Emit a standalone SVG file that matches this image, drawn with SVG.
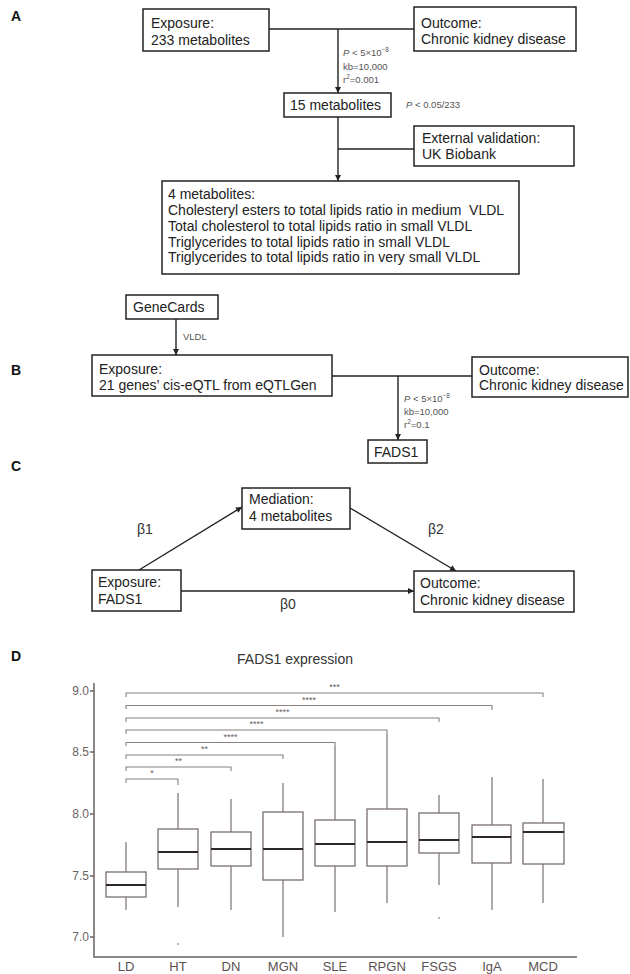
<svg xmlns="http://www.w3.org/2000/svg" width="630" height="974" viewBox="0 0 630 974">
<style>
text{font-family:"Liberation Sans",Arial,sans-serif;}
.panel{font-size:14px;font-weight:bold;fill:#111;}
.nb{fill:#fff;stroke:#222;stroke-width:1.5;}
.nt{font-size:14px;fill:#222;}
.sm{font-size:9.5px;fill:#555;}
.beta{font-size:14px;fill:#333;}
.cn{stroke:#222;stroke-width:1.4;fill:none;}
.bx{fill:#fff;stroke:#7a6f6f;stroke-width:1.3;}
.wh{stroke:#7a6f6f;stroke-width:1.2;}
.md{stroke:#2e2929;stroke-width:2.2;}
.br{stroke:#8a8080;stroke-width:1.1;fill:none;}
.st{font-size:9px;fill:#6a6060;text-anchor:middle;}
.ax{stroke:#6b6262;stroke-width:1.5;fill:none;}
.yt{font-size:12px;fill:#6b6262;text-anchor:end;}
.xt{font-size:13px;fill:#5a5252;text-anchor:middle;}
</style>
<defs>
<marker id="ah" viewBox="0 0 10 10" refX="10" refY="5" markerWidth="7" markerHeight="6" markerUnits="userSpaceOnUse" orient="auto">
<path d="M0,0 L10,5 L0,10 z" fill="#222"/>
</marker>
</defs>
<rect width="630" height="974" fill="#fff"/>

<text class="panel" x="11" y="21">A</text>
<text class="panel" x="11" y="375">B</text>
<text class="panel" x="11" y="471">C</text>
<text class="panel" x="11" y="661">D</text>

<g id="connectors">
<line class="cn" x1="269" y1="29" x2="414" y2="29"/>
<line class="cn" x1="338" y1="29" x2="338" y2="93" marker-end="url(#ah)"/>
<line class="cn" x1="338" y1="117" x2="338" y2="181" marker-end="url(#ah)"/>
<line class="cn" x1="414" y1="149" x2="338" y2="149"/>
<line class="cn" x1="176" y1="319" x2="176" y2="355" marker-end="url(#ah)"/>
<line class="cn" x1="332" y1="376" x2="472" y2="376"/>
<line class="cn" x1="398" y1="376" x2="398" y2="440" marker-end="url(#ah)"/>
<line class="cn" x1="139" y1="570" x2="242" y2="507" marker-end="url(#ah)"/>
<line class="cn" x1="350" y1="508" x2="456" y2="571" marker-end="url(#ah)"/>
<line class="cn" x1="181" y1="591" x2="414" y2="591" marker-end="url(#ah)"/>
<text class="sm" x="343" y="56"><tspan font-style="italic">P</tspan> &lt; 5×10<tspan font-size="6.5px" dy="-4">−8</tspan></text>
<text class="sm" x="343" y="70">kb=10,000</text>
<text class="sm" x="343" y="83">r<tspan font-size="6.5px" dy="-4">2</tspan><tspan dy="4">=0.001</tspan></text>
<text class="sm" x="406" y="108"><tspan font-style="italic">P</tspan> &lt; 0.05/233</text>
<text class="sm" x="183" y="340">VLDL</text>
<text class="sm" x="404" y="402"><tspan font-style="italic">P</tspan> &lt; 5×10<tspan font-size="6.5px" dy="-4">−8</tspan></text>
<text class="sm" x="404" y="415">kb=10,000</text>
<text class="sm" x="404" y="428">r<tspan font-size="6.5px" dy="-4">2</tspan><tspan dy="4">=0.1</tspan></text>
<text class="beta" x="137" y="534">β1</text>
<text class="beta" x="428" y="534">β2</text>
<text class="beta" x="280" y="609">β0</text>
</g>

<g id="a-exposure">
<rect class="nb" x="143" y="9" width="126" height="42"/>
<text class="nt" x="151" y="28">Exposure:</text>
<text class="nt" x="151" y="45">233 metabolites</text>
</g>
<g id="a-outcome">
<rect class="nb" x="414" y="7" width="162" height="44"/>
<text class="nt" x="421" y="28">Outcome:</text>
<text class="nt" x="421" y="44">Chronic kidney disease</text>
</g>
<g id="a-15">
<rect class="nb" x="284" y="93" width="107" height="24"/>
<text class="nt" x="290" y="110">15 metabolites</text>
</g>
<g id="a-external">
<rect class="nb" x="414" y="126" width="160" height="40"/>
<text class="nt" x="422" y="143">External validation:</text>
<text class="nt" x="422" y="159">UK Biobank</text>
</g>
<g id="a-4met">
<rect class="nb" x="162" y="181" width="357" height="93"/>
<text class="nt" x="168" y="199">4 metabolites:</text>
<text class="nt" x="168" y="215" xml:space="preserve">Cholesteryl esters to total lipids ratio in medium  VLDL</text>
<text class="nt" x="168" y="231">Total cholesterol to total lipids ratio in small VLDL</text>
<text class="nt" x="168" y="246.5">Triglycerides to total lipids ratio in small VLDL</text>
<text class="nt" x="168" y="262">Triglycerides to total lipids ratio in very small VLDL</text>
</g>

<g id="b-genecards">
<rect class="nb" x="126" y="295" width="92" height="24"/>
<text class="nt" x="133" y="312">GeneCards</text>
</g>
<g id="b-exposure">
<rect class="nb" x="92" y="355" width="240" height="41"/>
<text class="nt" x="99" y="374">Exposure:</text>
<text class="nt" x="99" y="390">21 genes’ cis-eQTL from eQTLGen</text>
</g>
<g id="b-outcome">
<rect class="nb" x="472" y="357" width="156" height="40"/>
<text class="nt" x="479" y="375">Outcome:</text>
<text class="nt" x="479" y="390">Chronic kidney disease</text>
</g>
<g id="b-fads1">
<rect class="nb" x="368" y="440" width="59" height="23"/>
<text class="nt" x="374" y="457">FADS1</text>
</g>

<g id="c-mediation">
<rect class="nb" x="242" y="488" width="108" height="41"/>
<text class="nt" x="249" y="504">Mediation:</text>
<text class="nt" x="249" y="521">4 metabolites</text>
</g>
<g id="c-exposure">
<rect class="nb" x="92" y="570" width="89" height="41"/>
<text class="nt" x="98" y="587">Exposure:</text>
<text class="nt" x="98" y="604">FADS1</text>
</g>
<g id="c-outcome">
<rect class="nb" x="414" y="571" width="160" height="41"/>
<text class="nt" x="420" y="588">Outcome:</text>
<text class="nt" x="420" y="605">Chronic kidney disease</text>
</g>

<g id="d-plot">
<text x="295" y="664" font-size="14" fill="#333" text-anchor="middle">FADS1 expression</text>
<path class="ax" d="M94,683 V957 H577"/>
<g class="ax">
<line x1="90" y1="691" x2="94" y2="691"/>
<line x1="90" y1="752" x2="94" y2="752"/>
<line x1="90" y1="814" x2="94" y2="814"/>
<line x1="90" y1="876" x2="94" y2="876"/>
<line x1="90" y1="937" x2="94" y2="937"/>
</g>
<text class="yt" x="89" y="695">9.0</text>
<text class="yt" x="89" y="756">8.5</text>
<text class="yt" x="89" y="818">8.0</text>
<text class="yt" x="89" y="880">7.5</text>
<text class="yt" x="89" y="941">7.0</text>

<g id="brackets">
<path class="br" d="M126,697 V693 H543 V697"/>
<path class="br" d="M126,709 V705.5 H492 V710"/>
<path class="br" d="M126,722 V718 H439 V722"/>
<path class="br" d="M126,734 V730 H387 V734"/>
<path class="br" d="M126,746 V742.5 H335 V746"/>
<path class="br" d="M126,759 V755 H283 V759"/>
<path class="br" d="M126,771 V767 H231 V771"/>
<path class="br" d="M126,783 V779 H178 V785"/>
<text class="st" x="334.5" y="690">***</text>
<text class="st" x="309" y="702.5">****</text>
<text class="st" x="282.5" y="715">****</text>
<text class="st" x="256.5" y="727">****</text>
<text class="st" x="230.5" y="739.5">****</text>
<text class="st" x="204.5" y="752">**</text>
<text class="st" x="178.5" y="764">**</text>
<text class="st" x="152" y="776">*</text>
</g>

<g id="box-LD">
<line class="wh" x1="126" y1="842" x2="126" y2="910"/>
<rect class="bx" x="106" y="872" width="40" height="25"/>
<line class="md" x1="106" y1="885" x2="146" y2="885"/>
</g>
<g id="box-HT">
<line class="wh" x1="178" y1="793" x2="178" y2="907"/>
<rect class="bx" x="158" y="829" width="40" height="40"/>
<line class="md" x1="158" y1="852" x2="198" y2="852"/>
<circle cx="178" cy="944" r="0.9" fill="#9a9090"/>
</g>
<g id="box-DN">
<line class="wh" x1="231" y1="799" x2="231" y2="910"/>
<rect class="bx" x="211" y="832" width="40" height="34"/>
<line class="md" x1="211" y1="849" x2="251" y2="849"/>
</g>
<g id="box-MGN">
<line class="wh" x1="283" y1="783" x2="283" y2="937"/>
<rect class="bx" x="263" y="812" width="40" height="68"/>
<line class="md" x1="263" y1="849" x2="303" y2="849"/>
</g>
<g id="box-SLE">
<line class="wh" x1="335" y1="746" x2="335" y2="912"/>
<rect class="bx" x="315" y="820" width="40" height="46"/>
<line class="md" x1="315" y1="844" x2="355" y2="844"/>
</g>
<g id="box-RPGN">
<line class="wh" x1="387" y1="734" x2="387" y2="903"/>
<rect class="bx" x="367" y="809" width="40" height="57"/>
<line class="md" x1="367" y1="842" x2="407" y2="842"/>
</g>
<g id="box-FSGS">
<line class="wh" x1="439" y1="795" x2="439" y2="885"/>
<rect class="bx" x="419" y="813" width="40" height="40"/>
<line class="md" x1="419" y1="840" x2="459" y2="840"/>
<circle cx="439" cy="918" r="0.9" fill="#9a9090"/>
</g>
<g id="box-IgA">
<line class="wh" x1="492" y1="777" x2="492" y2="910"/>
<rect class="bx" x="472" y="825" width="39" height="38"/>
<line class="md" x1="472" y1="837" x2="511" y2="837"/>
</g>
<g id="box-MCD">
<line class="wh" x1="543" y1="779" x2="543" y2="903"/>
<rect class="bx" x="523" y="823" width="41" height="41"/>
<line class="md" x1="523" y1="832" x2="564" y2="832"/>
</g>

<text class="xt" x="126" y="971">LD</text>
<text class="xt" x="178" y="971">HT</text>
<text class="xt" x="231" y="971">DN</text>
<text class="xt" x="283" y="971">MGN</text>
<text class="xt" x="335" y="971">SLE</text>
<text class="xt" x="387" y="971">RPGN</text>
<text class="xt" x="439" y="971">FSGS</text>
<text class="xt" x="492" y="971">IgA</text>
<text class="xt" x="543" y="971">MCD</text>
</g>
</svg>
